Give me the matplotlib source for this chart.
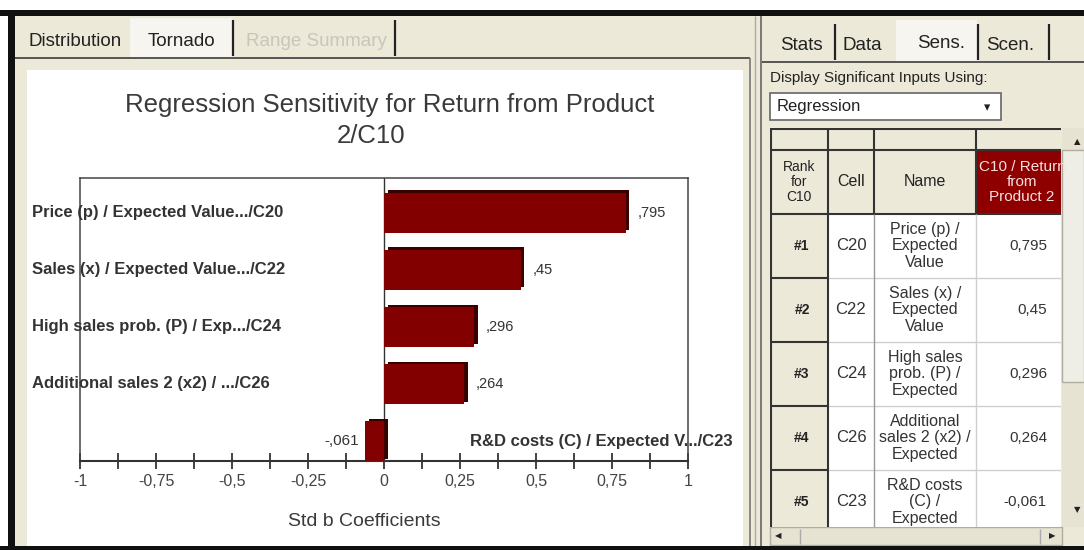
import numpy as np
import matplotlib
matplotlib.use("Agg")
import matplotlib.pyplot as plt
from matplotlib.patches import Rectangle

plt.rcParams['font.family'] = ['Liberation Sans', 'DejaVu Sans']

# tornado data
labels = ["Price (p) / Expected Value.../C20",
          "Sales (x) / Expected Value.../C22",
          "High sales prob. (P) / Exp.../C24",
          "Additional sales 2 (x2) / .../C26",
          "R&D costs (C) / Expected V.../C23"]
coefs = [0.795, 0.45, 0.296, 0.264, -0.061]
tick_vals = [-1, -0.75, -0.5, -0.25, 0, 0.25, 0.5, 0.75, 1]
tick_text = ["-1", "-0,75", "-0,5", "-0,25", "0", "0,25", "0,5", "0,75", "1"]

# side table data
ranks = ["#1", "#2", "#3", "#4", "#5"]
cells = ["C20", "C22", "C24", "C26", "C23"]
names = ["Price (p) /\nExpected\nValue",
         "Sales (x) /\nExpected\nValue",
         "High sales\nprob. (P) /\nExpected",
         "Additional\nsales 2 (x2) /\nExpected",
         "R&D costs\n(C) /\nExpected"]


def comma(v):
    return ("%g" % v).replace(".", ",")


BEIGE = '#ece9d8'
LIGHT = '#f6f5ef'
DARK = '#333333'
MAROON = '#820000'

fig = plt.figure(figsize=(10.84, 5.5), dpi=100)
fig.patch.set_facecolor('white')

# background axes in pixel coords for the window chrome
bg = fig.add_axes([0, 0, 1, 1])
bg.set_xlim(0, 1084)
bg.set_ylim(550, 0)
bg.axis('off')


def rect(ax, x0, y0, x1, y1, fc, ec='none', lw=0, z=1):
    ax.add_patch(Rectangle((x0, y0), x1 - x0, y1 - y0, facecolor=fc,
                           edgecolor=ec, linewidth=lw, zorder=z))


def line(ax, xs, ys, c=DARK, lw=1.0, z=2):
    ax.plot(xs, ys, color=c, lw=lw, zorder=z, solid_capstyle='butt')


# window frame
rect(bg, 8, 16, 1084, 547, BEIGE, z=0)
rect(bg, 0, 10, 1084, 16, '#111111', z=3)
rect(bg, 8, 10, 15, 550, '#111111', z=3)
rect(bg, 0, 546, 1084, 550, '#111111', z=3)

# left panel tabs
rect(bg, 130, 18, 232, 58, LIGHT, z=1)
line(bg, [233, 233], [20, 56], '#222222', 1.6)
line(bg, [395, 395], [20, 56], '#222222', 1.6)
line(bg, [15, 750], [58, 58], '#555555', 1.4)
bg.text(29, 42, "Distribution", fontsize=13.5, color='#222222', va='center')
bg.text(148, 42, "Tornado", fontsize=13.5, color='#222222', va='center')
bg.text(246, 42, "Range Summary", fontsize=13.5, color='#c8c6bc', va='center')

# white chart area + panel borders
rect(bg, 27, 70, 743, 546, 'white', z=1)
line(bg, [750, 750], [58, 546], '#777777', 1.2)
line(bg, [755, 755], [16, 546], '#aaaaaa', 1.0)
line(bg, [761, 761], [16, 546], '#666666', 1.2)

# chart title and x label
bg.text(390, 105, "Regression Sensitivity for Return from Product",
        fontsize=18.5, color='#3a3a3a', ha='center', va='center', zorder=5)
bg.text(371, 136, "2/C10", fontsize=18.5, color='#3a3a3a',
        ha='center', va='center', zorder=5)
bg.text(364, 521, "Std b Coefficients", fontsize=14, color='#3a3a3a',
        ha='center', va='center', zorder=5)

# tornado axes
ax = fig.add_axes([80 / 1084, (550 - 461) / 550, 608 / 1084, 283 / 550])
ax.set_facecolor('none')
ypos = np.arange(len(coefs))
ax.axvline(0, color=DARK, lw=1.0, zorder=1)
ax.barh(ypos - 0.04, coefs, left=0.012, height=0.7, color='#3a0000', zorder=2)
ax.barh(ypos, coefs, height=0.7, color=MAROON, zorder=3)
ax.set_xlim(-1, 1)
ax.set_ylim(4.35, -0.605)
ax.set_yticks([])

for i, v in enumerate(coefs):
    txt = comma(v).replace("0,", ",")
    if v >= 0:
        ax.text(-1.158, i, labels[i], fontsize=12, fontweight='bold',
                color='#333333', ha='left', va='center', clip_on=False)
        ax.text(v + 0.038, i, txt, fontsize=10.5, color='#333333',
                ha='left', va='center')
    else:
        ax.text(0.283, i, labels[i], fontsize=12, fontweight='bold',
                color='#333333', ha='left', va='center', clip_on=False)
        ax.text(v - 0.02, i, txt, fontsize=11, color='#333333',
                ha='right', va='center')

ax.set_xticks(tick_vals)
ax.set_xticklabels(tick_text)
ax.set_xticks(np.arange(-0.875, 1, 0.25), minor=True)
ax.tick_params(axis='x', which='both', direction='inout', length=11,
               width=1.3, color=DARK, labelsize=11.5, labelcolor='#444444', pad=4)
for s in ['top', 'left', 'right']:
    ax.spines[s].set_color('#444444')
    ax.spines[s].set_linewidth(1.1)
ax.spines['bottom'].set_color(DARK)
ax.spines['bottom'].set_linewidth(1.5)

# right panel tabs
rect(bg, 896, 20, 977, 62, LIGHT, z=1)
line(bg, [835, 835], [24, 60], '#222222', 1.6)
line(bg, [978, 978], [24, 60], '#222222', 1.6)
line(bg, [1049, 1049], [24, 60], '#222222', 1.6)
line(bg, [762, 1084], [62, 62], '#555555', 1.4)
bg.text(780, 46, "Stats", fontsize=13.5, color='#222222', va='center')
bg.text(843, 46, "Data", fontsize=13.5, color='#222222', va='center')
bg.text(941, 44, "Sens.", fontsize=13.5, color='#222222', va='center', ha='center')
bg.text(986, 46, "Scen.", fontsize=13.5, color='#222222', va='center')
bg.text(770, 78, "Display Significant Inputs Using:", fontsize=11,
        color='#222222', va='center')

# combo box
rect(bg, 770, 93, 1001, 120, 'white', ec='#666666', lw=1.2, z=2)
bg.text(777, 107, "Regression", fontsize=12, color='#222222', va='center', zorder=4)
bg.text(987, 108, "\u25be", fontsize=9, color='#222222', ha='center',
        va='center', zorder=4, family=['DejaVu Sans'])

# scrollbars
rect(bg, 1062, 128, 1084, 527, '#e6e3d3', z=1)
rect(bg, 1062, 150, 1084, 382, '#efeee6', ec='#b0ad9e', lw=1.0, z=1)
bg.text(1077, 142, "\u25b2", fontsize=6, color='#222222', ha='center',
        va='center', family=['DejaVu Sans'])
bg.text(1077, 510, "\u25bc", fontsize=6, color='#222222', ha='center',
        va='center', family=['DejaVu Sans'])
rect(bg, 770, 527, 1062, 545, '#e6e3d3', ec='#b0ad9e', lw=1.0, z=1)
bg.text(778, 536, "\u25c0", fontsize=6, color='#222222', ha='center',
        va='center', family=['DejaVu Sans'])
bg.text(1052, 536, "\u25b6", fontsize=6, color='#222222', ha='center',
        va='center', family=['DejaVu Sans'])
line(bg, [1040, 1040], [529, 544], '#aaaaaa', 1.0)
line(bg, [800, 800], [529, 544], '#aaaaaa', 1.0)

# table in its own clipped axes
tx0, tx1, ty0, ty1 = 770, 1061, 128, 527
at = fig.add_axes([tx0 / 1084, (550 - ty1) / 550, (tx1 - tx0) / 1084, (ty1 - ty0) / 550])
at.set_xlim(tx0, tx1)
at.set_ylim(ty1, ty0)
at.axis('off')

head1, head2 = 128, 150
row0, rowh = 214, 64

rect(at, 770, 128, 1070, 527, 'white', z=0)
rect(at, 770, head1, 1070, row0, BEIGE, z=1)
rect(at, 770, row0, 828, 527, BEIGE, z=1)
rect(at, 976, head2, 1070, row0, '#8e0000', z=1)
at.text(1022, 182, "C10 / Return\nfrom\nProduct 2", fontsize=11, color='#f4e0e0',
        ha='center', va='center', linespacing=1.1, zorder=4)
at.text(799, 182, "Rank\nfor\nC10", fontsize=10, color='#222222', ha='center',
        va='center', linespacing=1.05, zorder=4)
at.text(851, 182, "Cell", fontsize=11.5, color='#222222', ha='center',
        va='center', zorder=4)
at.text(925, 182, "Name", fontsize=11.5, color='#222222', ha='center',
        va='center', zorder=4)

for i in range(len(ranks)):
    yc = row0 + rowh * (i + 0.5)
    at.text(802, yc, ranks[i], fontsize=10, fontweight='bold', color='#222222',
            ha='center', va='center', zorder=4)
    at.text(851, yc, cells[i], fontsize=12, color='#333333', ha='center',
            va='center', zorder=4)
    at.text(925, yc, names[i], fontsize=11.5, color='#333333', ha='center',
            va='center', linespacing=1.12, zorder=4)
    at.text(1047, yc, comma(coefs[i]), fontsize=11, color='#333333', ha='right',
            va='center', zorder=4)
    yl = row0 + rowh * (i + 1)
    line(at, [828, 1070], [yl, yl], '#cfcfcf', 1.0, z=3)
    line(at, [770, 828], [yl, yl], DARK, 1.5, z=3)

line(at, [770, 1070], [head2, head2], DARK, 1.5, z=3)
line(at, [770, 1070], [row0, row0], DARK, 1.5, z=3)
line(at, [771, 771], [head1, ty1], DARK, 1.5, z=3)
line(at, [828, 828], [head1, ty1], DARK, 1.5, z=3)
line(at, [874, 874], [head1, row0], DARK, 1.5, z=3)
line(at, [874, 874], [row0, ty1], '#999999', 1.0, z=3)
line(at, [976, 976], [head1, row0], DARK, 1.5, z=3)
line(at, [976, 976], [row0, ty1], '#cfcfcf', 1.0, z=3)
line(at, [770, 1070], [head1 + 1, head1 + 1], DARK, 1.5, z=3)

fig.savefig("out.png", dpi=100)
